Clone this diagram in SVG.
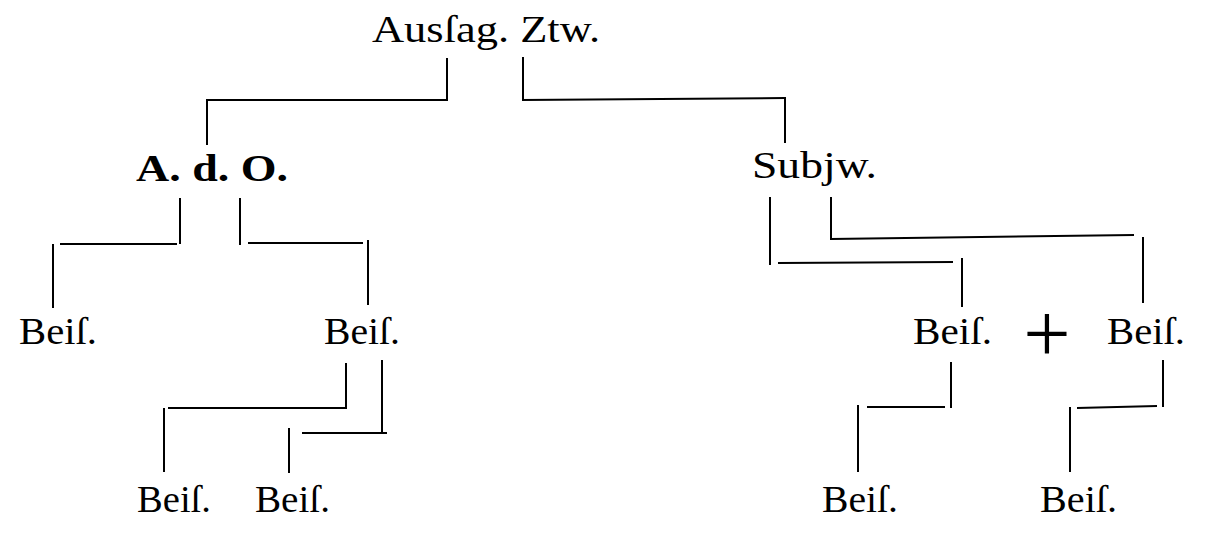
<svg xmlns="http://www.w3.org/2000/svg" width="1206" height="544" viewBox="0 0 1206 544">
<style>
.t{font-family:"Liberation Serif","DejaVu Serif",serif;font-size:38px;fill:#000}
.b{font-weight:bold}
.p{font-size:84px}
.c line{stroke:#000;stroke-width:2;stroke-linecap:butt}
</style>
<rect width="1206" height="544" fill="#fff"/>
<g id="n-aussag"><text class="t" x="372" y="42" textLength="228" lengthAdjust="spacingAndGlyphs">Ausſag. Ztw.</text></g>
<g id="n-ado"><text class="t b" x="136" y="181" textLength="152" lengthAdjust="spacingAndGlyphs">A. d. O.</text></g>
<g id="n-subjw"><text class="t" x="752" y="178" textLength="125" lengthAdjust="spacingAndGlyphs">Subjw.</text></g>
<g id="n-beis1"><text class="t" x="19" y="344" textLength="78" lengthAdjust="spacingAndGlyphs">Beiſ.</text></g>
<g id="n-beis2"><text class="t" x="324" y="344" textLength="76" lengthAdjust="spacingAndGlyphs">Beiſ.</text></g>
<g id="n-beis3"><text class="t" x="137" y="512" textLength="74" lengthAdjust="spacingAndGlyphs">Beiſ.</text></g>
<g id="n-beis4"><text class="t" x="255" y="512" textLength="75" lengthAdjust="spacingAndGlyphs">Beiſ.</text></g>
<g id="n-beis5"><text class="t" x="913" y="344" textLength="79" lengthAdjust="spacingAndGlyphs">Beiſ.</text></g>
<g id="n-plus"><text class="t p" x="1047" y="362" text-anchor="middle">+</text></g>
<g id="n-beis6"><text class="t" x="1107" y="344" textLength="78" lengthAdjust="spacingAndGlyphs">Beiſ.</text></g>
<g id="n-beis7"><text class="t" x="822" y="512" textLength="76" lengthAdjust="spacingAndGlyphs">Beiſ.</text></g>
<g id="n-beis8"><text class="t" x="1040" y="512" textLength="77" lengthAdjust="spacingAndGlyphs">Beiſ.</text></g>
<g id="connectors" class="c">
<line x1="447" y1="58" x2="447" y2="101"/>
<line x1="448" y1="100" x2="207" y2="100"/>
<line x1="207" y1="99" x2="207" y2="145"/>
<line x1="523" y1="57" x2="523" y2="101"/>
<line x1="522" y1="100" x2="785" y2="98"/>
<line x1="785" y1="97" x2="785" y2="143"/>
<line x1="180" y1="198" x2="180" y2="244"/>
<line x1="177" y1="244" x2="60" y2="244"/>
<line x1="53" y1="244" x2="53" y2="308"/>
<line x1="240" y1="198" x2="240" y2="245"/>
<line x1="248" y1="243" x2="363" y2="243"/>
<line x1="368" y1="240" x2="368" y2="305"/>
<line x1="346" y1="363" x2="346" y2="409"/>
<line x1="345" y1="408" x2="168" y2="408"/>
<line x1="164" y1="408" x2="164" y2="472"/>
<line x1="382" y1="360" x2="382" y2="433"/>
<line x1="387" y1="433" x2="302" y2="433"/>
<line x1="289" y1="428" x2="289" y2="473"/>
<line x1="770" y1="197" x2="770" y2="265"/>
<line x1="778" y1="263" x2="953" y2="262"/>
<line x1="962" y1="258" x2="962" y2="307"/>
<line x1="831" y1="197" x2="831" y2="240"/>
<line x1="831" y1="239" x2="1134" y2="235"/>
<line x1="1143" y1="237" x2="1143" y2="303"/>
<line x1="951" y1="362" x2="951" y2="408"/>
<line x1="945" y1="407" x2="867" y2="407"/>
<line x1="858" y1="405" x2="858" y2="472"/>
<line x1="1163" y1="360" x2="1163" y2="407"/>
<line x1="1157" y1="406" x2="1077" y2="408"/>
<line x1="1070" y1="407" x2="1070" y2="472"/>
</g>
</svg>
